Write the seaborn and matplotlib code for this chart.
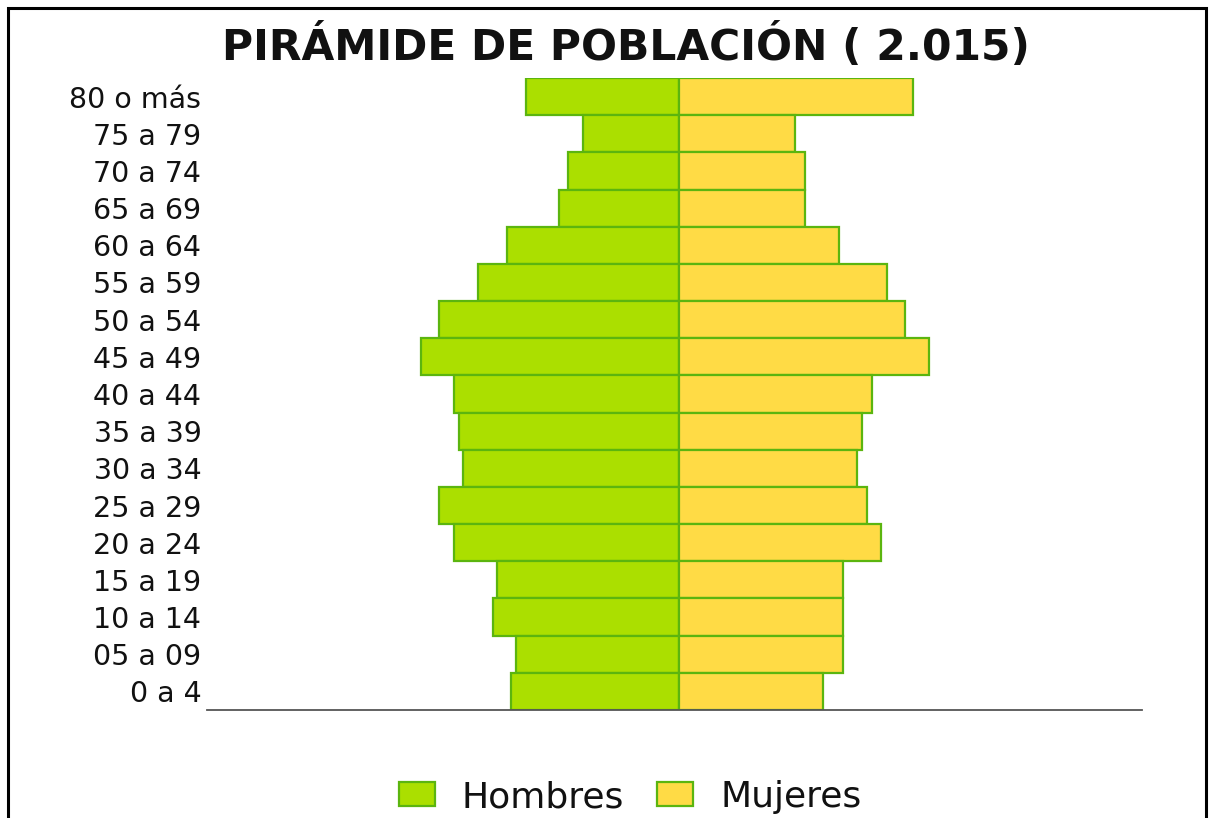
import pandas as pd
import seaborn as sns
import matplotlib.pyplot as plt
from matplotlib.patches import Rectangle, Patch

# age groups, top to bottom
edades = ["80 o más", "75 a 79", "70 a 74", "65 a 69", "60 a 64", "55 a 59",
          "50 a 54", "45 a 49", "40 a 44", "35 a 39", "30 a 34", "25 a 29",
          "20 a 24", "15 a 19", "10 a 14", "05 a 09", "0 a 4"]
# relative bar lengths
hombres = [153, 96, 111, 120, 172, 201, 240, 258, 225, 220, 216, 240, 225, 182, 186, 163, 168]
mujeres = [234, 116, 126, 126, 160, 208, 226, 250, 193, 183, 178, 188, 202, 164, 164, 164, 144]

verde = "#ABDF00"
amarillo = "#FFDB45"
borde = "#5BB50F"


def make_pyramid():
    df = pd.DataFrame({
        "edad": edades * 2,
        "valor": [-v for v in hombres] + mujeres,
        "sexo": ["Hombres"] * len(edades) + ["Mujeres"] * len(edades),
    })

    sns.set_style("white")
    plt.rcParams["font.family"] = ["DejaVu Sans"]

    fig = plt.figure(figsize=(12.15, 8.18), dpi=100)
    ax = fig.add_axes([207 / 1215, 1 - 710 / 818, (1142 - 207) / 1215, (710 - 78) / 818])

    sns.barplot(data=df, x="valor", y="edad", hue="sexo", order=edades,
                palette={"Hombres": verde, "Mujeres": amarillo}, dodge=False,
                saturation=1, width=1, edgecolor=borde, linewidth=1.6,
                orient="h", ax=ax, legend=False)

    ax.set_xlim(-472, 463)
    ax.set_ylim(16.5, -0.5)
    ax.set_xlabel("")
    ax.set_ylabel("")
    ax.set_xticks([])
    ax.tick_params(axis="y", length=0, pad=4, labelsize=20.5, labelcolor="#111111")
    for s in ["top", "right", "left"]:
        ax.spines[s].set_visible(False)
    ax.spines["bottom"].set_color("#555555")
    ax.spines["bottom"].set_linewidth(1.3)

    # title
    fig.text(626 / 1215, 1 - 60 / 818, "PIRÁMIDE DE POBLACIÓN ( 2.015)",
             ha="center", va="baseline", fontsize=30.5, fontweight="bold", color="#111111")

    # legend
    handles = [Patch(facecolor=verde, edgecolor=borde, linewidth=1.6, label="Hombres"),
               Patch(facecolor=amarillo, edgecolor=borde, linewidth=1.6, label="Mujeres")]
    fig.legend(handles=handles, loc="center", bbox_to_anchor=(630 / 1215, 1 - 797 / 818),
               ncol=2, frameon=False, fontsize=26, labelcolor="#111111",
               handlelength=1.0, handleheight=0.65, handletextpad=0.75, columnspacing=0.9)

    # frame around the figure
    fig.patches.append(Rectangle((8 / 1215, -0.05), (1206 - 8) / 1215, 1.05 - 8 / 818,
                                 transform=fig.transFigure, fill=False,
                                 edgecolor="black", linewidth=2.2))

    fig.savefig("out.png", dpi=100)
    plt.close(fig)


if __name__ == "__main__":
    make_pyramid()
